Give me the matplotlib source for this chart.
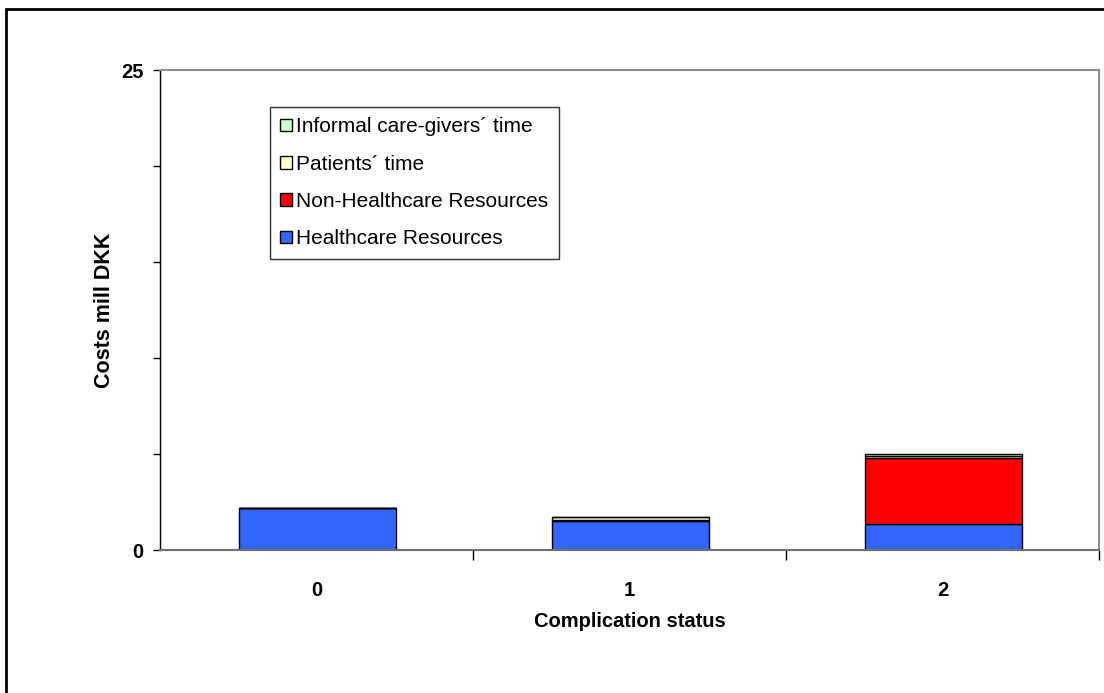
import numpy as np
import matplotlib
matplotlib.use("Agg")
import matplotlib.pyplot as plt
from matplotlib.patches import Rectangle

plt.rcParams["font.family"] = ["Liberation Sans", "DejaVu Sans"]

# data
categories = ["0", "1", "2"]
healthcare = [2.17, 1.52, 1.34]
non_healthcare = [0.0, 0.03, 3.47]
patients_time = [0.0, 0.17, 0.10]
informal_time = [0.0, 0.02, 0.07]
series_names = ["Healthcare Resources", "Non-Healthcare Resources",
                "Patients\u00b4 time", "Informal care-givers\u00b4 time"]
colors = ["#3366ff", "#ff0000", "#ffffcc", "#ccffcc"]

fig = plt.figure(figsize=(11.04, 6.93), dpi=100)
ax = fig.add_axes([160 / 1104, 143 / 693, 939 / 1104, 480 / 693])

x = np.arange(len(categories))
bottom = np.zeros(len(categories))
handles = []
for vals, name, c in zip([healthcare, non_healthcare, patients_time, informal_time], series_names, colors):
    b = ax.bar(x + 0.003, vals, 0.5, bottom=bottom, color=c, edgecolor="black", linewidth=1, label=name)
    handles.append(b)
    bottom += np.array(vals)

ax.set_xlim(-0.5, 2.5)
ax.set_ylim(0, 25)

# x axis: labels at the centres, tick marks between the categories
ax.set_xticks(x)
ax.set_xticklabels(categories, fontsize=14.5, fontweight="bold")
ax.tick_params(axis="x", which="major", length=0, pad=22)
ax.set_xticks([0.5, 1.5, 2.5], minor=True)
ax.tick_params(axis="x", which="minor", length=7, direction="out", width=1)

yt = [0, 5, 10, 15, 20, 25]
ax.set_yticks(yt)
ax.set_yticklabels(["0", "", "", "", "", "25"], fontsize=14.5, fontweight="bold")
ax.tick_params(axis="y", length=5, direction="out", width=1, pad=7)

ax.set_xlabel("Complication status", fontsize=14.5, fontweight="bold", labelpad=9)
ax.set_ylabel("Costs mill DKK", fontsize=15.5, fontweight="bold", labelpad=4)

for s in ["top", "right"]:
    ax.spines[s].set_color("#909090")
    ax.spines[s].set_linewidth(1.5)
ax.spines["bottom"].set_color("#707070")
ax.spines["bottom"].set_linewidth(1.5)
ax.spines["left"].set_color("black")
ax.spines["left"].set_linewidth(1)

leg = ax.legend(handles[::-1], series_names[::-1], loc="upper left",
                bbox_to_anchor=(110 / 939, 443 / 480), fontsize=15,
                frameon=True, fancybox=False, handlelength=0.55, handleheight=0.55,
                handletextpad=0.2, labelspacing=0.88, borderpad=0.5, borderaxespad=0)
leg.get_frame().set_edgecolor("black")
leg.get_frame().set_linewidth(1)

# outer chart frame (only left and top edges fall inside the image)
fig.add_artist(Rectangle((6 / 1104, -0.1), 1.2, 684 / 693 + 0.1, transform=fig.transFigure,
                         fill=False, edgecolor="black", linewidth=2, clip_on=False))

fig.savefig("out.png", dpi=100)
